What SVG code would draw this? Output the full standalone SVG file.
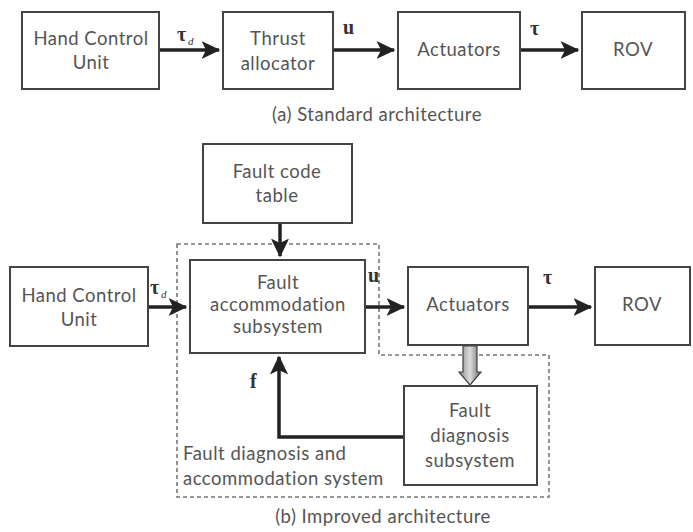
<svg xmlns="http://www.w3.org/2000/svg" width="693" height="532" viewBox="0 0 693 532">
<defs>
<marker id="ah" markerWidth="6" markerHeight="6" refX="5" refY="3" orient="auto" markerUnits="strokeWidth">
<path d="M0,0.4 L5.4,3 L0,5.6 L1.3,3 Z" fill="#222"/>
</marker>
<linearGradient id="gg" x1="0" y1="0" x2="1" y2="0">
<stop offset="0" stop-color="#888"/>
<stop offset="0.5" stop-color="#ddd"/>
<stop offset="1" stop-color="#666"/>
</linearGradient>
<style>
.box{fill:#fff;stroke:#444;stroke-width:2}
.t{font-family:Lato,"Open Sans",sans-serif;font-size:18.5px;letter-spacing:0.5px;fill:#555;text-anchor:middle}
.tl{font-family:Lato,"Open Sans",sans-serif;font-size:18.5px;letter-spacing:0.5px;fill:#555}
.c{stroke:#222;stroke-width:3.5;fill:none;marker-end:url(#ah)}
.sym{font-family:"Liberation Serif",serif;font-weight:bold;font-size:20px;fill:#333}
.sub{font-family:"Liberation Serif",serif;font-style:italic;font-size:11px;fill:#333}
.dash{fill:none;stroke:#777;stroke-width:1.6;stroke-dasharray:4,3}
</style>
</defs>
<rect width="693" height="532" fill="#fff"/>

<g id="boundary">
<path class="dash" d="M177,244 H379 V355 H549 V497 H177 Z"/>
</g>

<g id="connectors">
<line class="c" x1="159" y1="50" x2="219" y2="50"/>
<line class="c" x1="333" y1="50" x2="394" y2="50"/>
<line class="c" x1="520" y1="50" x2="578" y2="50"/>
<line class="c" x1="280" y1="223" x2="280" y2="256"/>
<line class="c" x1="148" y1="307" x2="186" y2="307"/>
<line class="c" x1="365" y1="307" x2="404" y2="307"/>
<line class="c" x1="528" y1="307" x2="591" y2="307"/>
<polyline class="c" points="404,437 279,437 279,357"/>
<path d="M463,346 H477 V372 H481 L470,385 L459,372 H463 Z" fill="url(#gg)" stroke="#444" stroke-width="1.2"/>
</g>

<g id="labels">
<text class="sym" x="177" y="41">τ</text><text class="sub" x="188" y="45">d</text>
<text class="sym" x="343" y="34">u</text>
<text class="sym" x="530" y="35">τ</text>
<text class="sym" x="150" y="294">τ</text><text class="sub" x="161" y="298">d</text>
<text class="sym" x="368" y="282">u</text>
<text class="sym" x="543" y="284">τ</text>
<text class="sym" x="250" y="388">f</text>
</g>

<g id="hcu1"><rect class="box" x="22" y="12" width="137" height="77"/>
<text class="t" x="91" y="45">Hand Control</text><text class="t" x="91" y="69">Unit</text></g>
<g id="thrust"><rect class="box" x="223" y="12" width="110" height="77"/>
<text class="t" x="278" y="45">Thrust</text><text class="t" x="278" y="70">allocator</text></g>
<g id="act1"><rect class="box" x="398" y="12" width="122" height="77"/>
<text class="t" x="459" y="56">Actuators</text></g>
<g id="rov1"><rect class="box" x="582" y="12" width="103" height="77"/>
<text class="t" x="633" y="56">ROV</text></g>
<text class="t" x="377" y="121">(a) Standard architecture</text>

<g id="fct"><rect class="box" x="203" y="144" width="149" height="79"/>
<text class="t" x="277" y="178">Fault code</text><text class="t" x="277" y="202">table</text></g>
<g id="hcu2"><rect class="box" x="10" y="267" width="138" height="79"/>
<text class="t" x="79" y="302">Hand Control</text><text class="t" x="79" y="326">Unit</text></g>
<g id="fas"><rect class="box" x="190" y="260" width="175" height="93"/>
<text class="t" x="278" y="289">Fault</text><text class="t" x="278" y="311">accommodation</text><text class="t" x="278" y="333">subsystem</text></g>
<g id="act2"><rect class="box" x="408" y="267" width="120" height="78"/>
<text class="t" x="468" y="311">Actuators</text></g>
<g id="rov2"><rect class="box" x="595" y="267" width="95" height="78"/>
<text class="t" x="642" y="311">ROV</text></g>
<g id="fds"><rect class="box" x="404" y="386" width="133" height="99"/>
<text class="t" x="470" y="417">Fault</text><text class="t" x="470" y="442">diagnosis</text><text class="t" x="470" y="467">subsystem</text></g>
<text class="tl" x="183" y="460">Fault diagnosis and</text>
<text class="tl" x="183" y="485">accommodation system</text>
<text class="t" x="383" y="523">(b) Improved architecture</text>
</svg>
